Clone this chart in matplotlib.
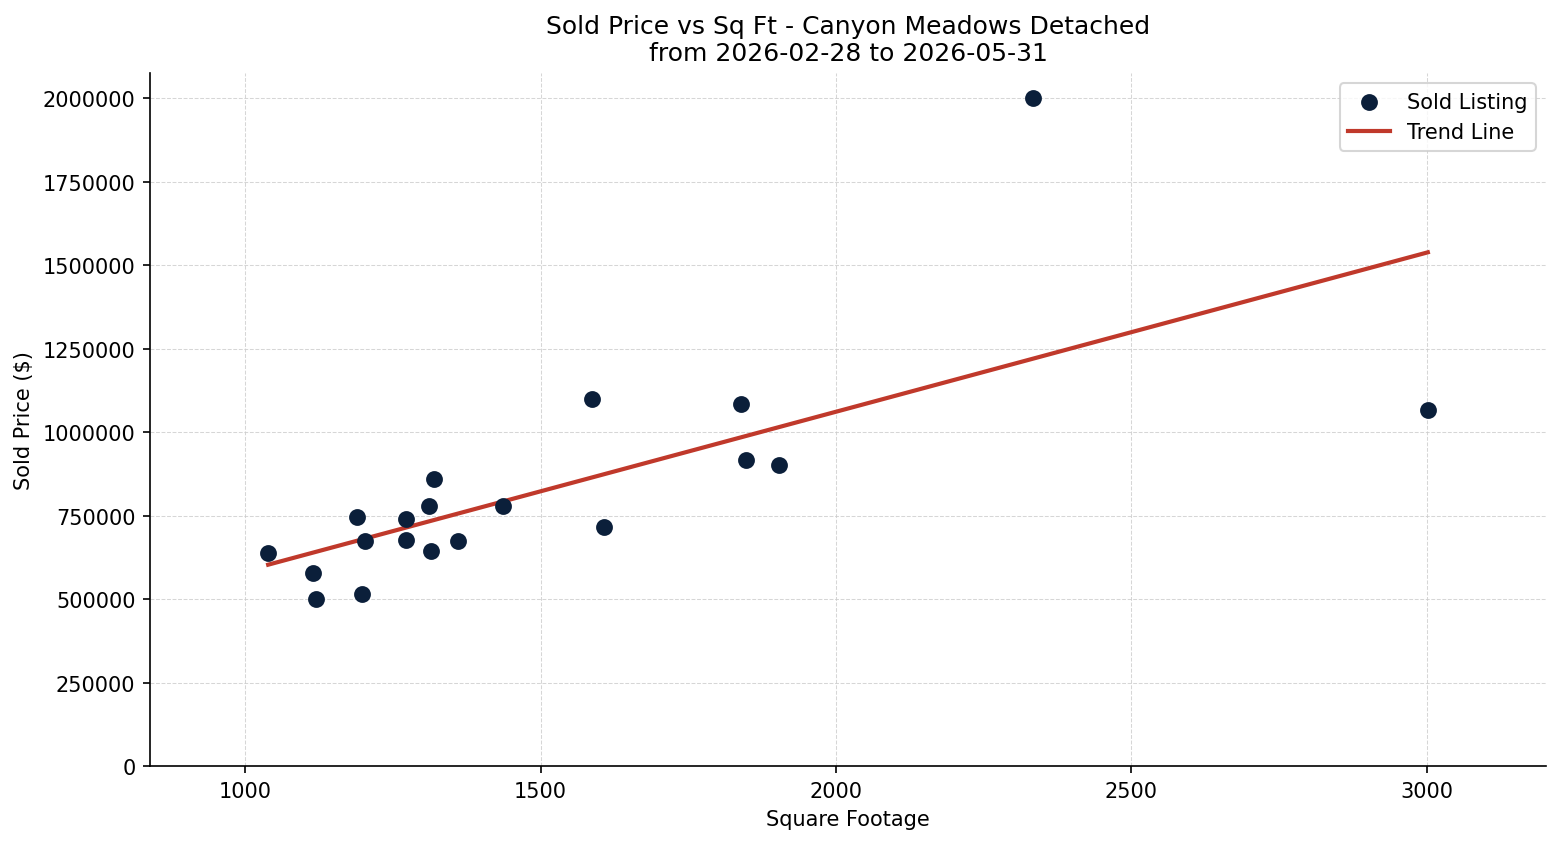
import numpy as np
import matplotlib
matplotlib.use("Agg")
import matplotlib.pyplot as plt

sqft = [1039, 1115, 1120, 1189, 1198, 1203, 1272, 1272, 1312, 1314,
        1319, 1360, 1436, 1588, 1608, 1840, 1848, 1904, 2334, 3002]
price = [637000, 578000, 500000, 745000, 515000, 673000, 740000, 676000, 778000, 644000,
         859000, 673000, 778000, 1099000, 716000, 1084000, 916000, 901000, 2000000, 1066000]

title = "Sold Price vs Sq Ft - Canyon Meadows Detached\nfrom 2026-02-28 to 2026-05-31"

fig, ax = plt.subplots(figsize=(10.4, 5.6333), dpi=150)
x = np.array(sqft, dtype=float)
y = np.array(price, dtype=float)
ax.scatter(x, y, s=50, color="#0b1f3a", label="Sold Listing", zorder=3)
m, b = np.polyfit(x, y, 1)
xs = np.array([x.min(), x.max()])
ax.plot(xs, m * xs + b, color="#c0392b", linewidth=2, label="Trend Line", zorder=2)

ax.set_xlim(x.min() - 200, x.max() + 200)
ax.set_ylim(bottom=0)
ax.set_title(title, fontsize=12)
ax.set_xlabel("Square Footage", fontsize=10)
ax.set_ylabel("Sold Price ($)", fontsize=10)
ax.ticklabel_format(style="plain", axis="y")
ax.grid(True, linestyle="--", linewidth=0.5, color="#cccccc", alpha=0.8)
ax.spines["top"].set_visible(False)
ax.spines["right"].set_visible(False)
ax.legend(loc="upper right", fontsize=10)
fig.subplots_adjust(left=150 / 1560, right=1546 / 1560, top=1 - 74 / 845, bottom=1 - 767 / 845)
fig.savefig("out.png", dpi=150)
